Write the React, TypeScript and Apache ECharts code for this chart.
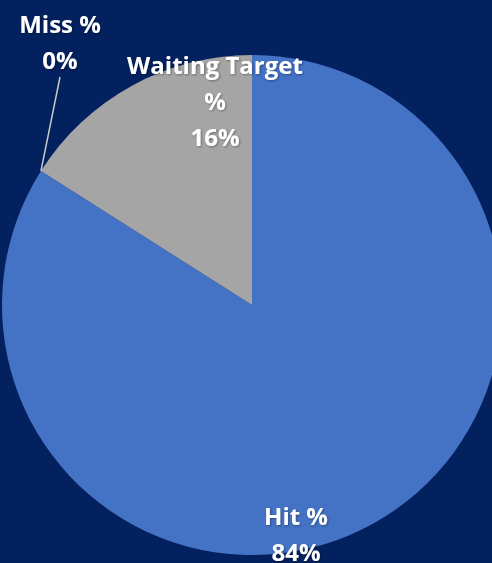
import React, { useEffect, useRef } from "react";
import * as echarts from "echarts";

const categories = ["Hit %", "Miss %", "Waiting Target %"];
const values = [84, 0, 16];
const labelNames = ["Hit %", "Miss %", "Waiting Target\n%"];
const colors = ["#4472C4", "#D9D9D9", "#A5A5A5"];

export default function App() {
  const ref = useRef<HTMLDivElement>(null);
  useEffect(() => {
    if (!ref.current) return;
    const chart = echarts.init(ref.current, undefined, { renderer: "svg" });
    const labelPos = [
      { x: 296, y: 533 },
      { x: 60, y: 41 },
      { x: 215, y: 100 },
    ];
    chart.setOption({
      animation: false,
      backgroundColor: "#04215f",
      series: [
        {
          type: "pie",
          center: [252, 305],
          radius: 250,
          startAngle: 90,
          clockwise: true,
          minShowLabelAngle: -1,
          avoidLabelOverlap: false,
          data: categories.map((c, i) => ({
            name: c,
            value: values[i],
            itemStyle: { color: colors[i] },
            label:
              i === 1
                ? { show: true, position: "outside" }
                : { show: true, position: "inside" },
            labelLine:
              i === 1
                ? { show: true, length: 20, length2: 0, lineStyle: { color: "#C8C8C8", width: 1.5 } }
                : { show: false },
          })),
          label: {
            color: "#ffffff",
            fontFamily: "Open Sans",
            fontWeight: "bold",
            fontSize: 24,
            lineHeight: 36,
            align: "center",
            textShadowColor: "rgba(0,0,0,0.35)",
            textShadowBlur: 2,
            textShadowOffsetX: 1,
            textShadowOffsetY: 1,
            formatter: (p: any) => `${labelNames[p.dataIndex]}\n${Math.round(p.percent)}%`,
          },
          labelLayout: (p: any) => ({
            x: labelPos[p.dataIndex].x,
            y: labelPos[p.dataIndex].y,
            align: "center",
            verticalAlign: "middle",
          }),
        },
      ],
    });
    return () => chart.dispose();
  }, []);
  return (
    <div
      ref={ref}
      style={{ position: "fixed", left: 0, top: 0, width: 492, height: 563 }}
    />
  );
}
